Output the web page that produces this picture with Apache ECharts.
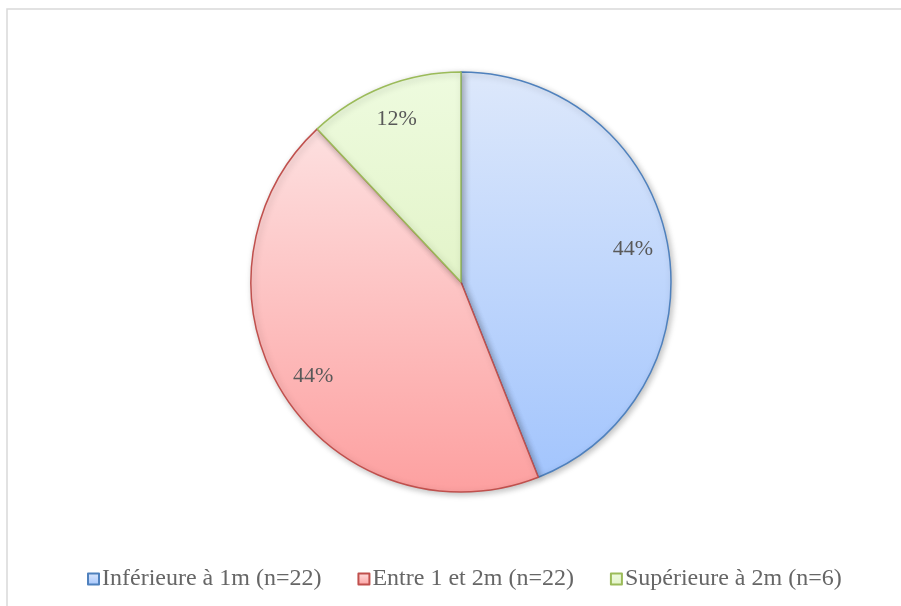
<!DOCTYPE html>
<html>
<head>
<meta charset="utf-8">
<script src="https://cdn.jsdelivr.net/npm/echarts@6/dist/echarts.min.js"></script>
<style>
  html, body { margin: 0; padding: 0; background: #fff; }
  #main { width: 901px; height: 606px; }
</style>
</head>
<body>
<div id="main"></div>
<script>
// categories and counts
const categories = ['Inférieure à 1m (n=22)', 'Entre 1 et 2m (n=22)', 'Supérieure à 2m (n=6)']
const counts = [22, 22, 6]
const borderColors = ['#4f81bd', '#c0504d', '#9bbb59']
const topColors = ['#dde8fb', '#fde0e0', '#eefbdf']
const bottomColors = ['#a3c5fd', '#fda0a0', '#e3f4c9']

const serif = '"Liberation Serif", "Times New Roman", serif'

function grad (i) {
  return new echarts.graphic.LinearGradient(0, 0, 0, 1, [
    { offset: 0, color: topColors[i] },
    { offset: 1, color: bottomColors[i] }
  ])
}

const pieData = categories.map((name, i) => ({
  name: name,
  value: counts[i],
  itemStyle: { color: grad(i), borderColor: borderColors[i], borderWidth: 1.5 }
}))

const labelData = categories.map((name, i) => ({ name: name, value: counts[i] }))

const total = counts.reduce((a, b) => a + b, 0)

const chart = echarts.init(document.getElementById('main'))
chart.setOption({
  animation: false,
  graphic: [{
    type: 'rect',
    shape: { x: 7, y: 9, width: 910, height: 620 },
    style: { fill: 'none', stroke: '#d9d9d9', lineWidth: 1.5 },
    silent: true
  }],
  legend: {
    bottom: 10,
    left: 82,
    itemWidth: 11,
    itemHeight: 11,
    itemGap: 36,
    icon: 'rect',
    textStyle: { fontFamily: serif, fontSize: 24, color: '#666666', padding: [0, 0, 0, -2] },
    data: categories
  },
  series: [
    {
      type: 'pie',
      center: [461, 282],
      radius: [0, 210],
      startAngle: 90,
      clockwise: true,
      label: { show: false },
      labelLine: { show: false },
      emphasis: { disabled: true },
      itemStyle: {
        shadowBlur: 6,
        shadowOffsetX: 2,
        shadowOffsetY: 2,
        shadowColor: 'rgba(0,0,0,0.25)'
      },
      data: pieData
    },
    {
      // transparent ring that only places the percentage labels
      type: 'pie',
      center: [461, 282],
      radius: [134, 210],
      startAngle: 90,
      clockwise: true,
      silent: true,
      legendHoverLink: false,
      itemStyle: { color: 'rgba(0,0,0,0)', borderWidth: 0 },
      label: {
        show: true,
        position: 'inside',
        fontFamily: serif,
        fontSize: 22,
        color: '#595959',
        formatter: p => Math.round(p.value / total * 100) + '%'
      },
      labelLine: { show: false },
      emphasis: { disabled: true },
      data: labelData
    }
  ]
})
</script>
</body>
</html>
